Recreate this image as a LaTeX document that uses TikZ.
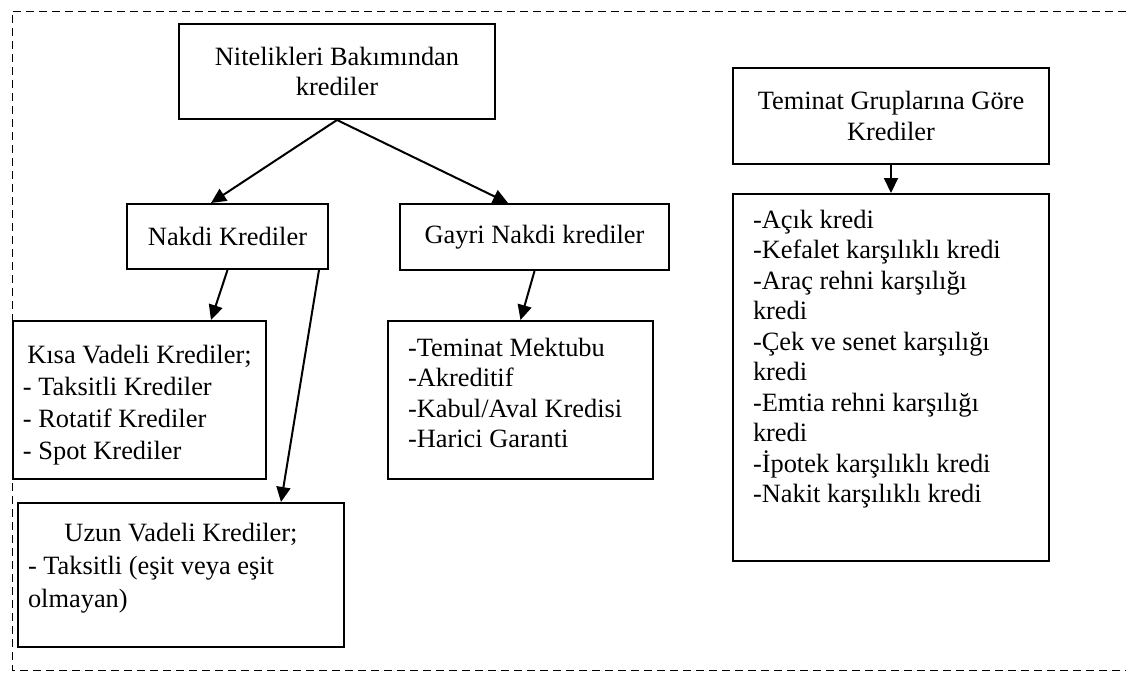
\documentclass[tikz,border=0pt]{standalone}
\usepackage{fontspec}
\setmainfont{Liberation Serif}
\usetikzlibrary{arrows.meta}

\begin{document}
\begin{tikzpicture}[x=0.5pt, y=-0.5pt, >={Triangle[length=7.5pt,width=7pt]},
  box/.style 2 args={draw, line width=1pt, inner sep=0pt, anchor=north west,
    minimum width=#1, minimum height=#2,
    font=\fontsize{13.2}{15.25}\selectfont,
    execute at begin node={\spaceskip=0pt\xspaceskip=0pt\relax}},
  link/.style={->, line width=1pt}]
  \useasboundingbox (0,0) rectangle (1126,677);

  %--- dashed frame (open on the right)
  \draw[dash pattern=on 4pt off 2.5pt, line width=0.5pt]
    (1126,11) -- (12,11) -- (12,670) -- (1126,670);

  %--- credits by nature
  \node[box={158pt}{47.5pt}, align=center] (nitelik) at (178,23)
    {Nitelikleri Bakımından\\krediler};
  \node[box={100.5pt}{32.5pt}] (nakdi) at (126,203) {Nakdi Krediler};
  \node[box={134.5pt}{33pt}] (gayri) at (399,203) {Gayri Nakdi krediler};

  \node[box={126.5pt}{79pt}, inner xsep=5pt, text width=116.5pt, align=left,
        font=\fontsize{13.2}{16}\selectfont] (kisa) at (12,320)
    {{\centering\rule{0pt}{14pt}Kısa Vadeli Krediler;\par}- Taksitli Krediler\\- Rotatif Krediler\\- Spot Krediler};
  \node[box={163pt}{72pt}, inner xsep=5pt, text width=153pt, align=left,
        font=\fontsize{13.2}{16.5}\selectfont] (uzun) at (17,502)
    {{\centering Uzun Vadeli Krediler;\par}- Taksitli (eşit veya eşit\\olmayan)\rule[-10pt]{0pt}{0pt}};
  \node[box={132.5pt}{79pt}, inner xsep=10pt, text width=112.5pt, align=left] (glist) at (387,320)
    {-Teminat Mektubu\\-Akreditif\\-Kabul/Aval Kredisi\\-Harici Garanti\rule[-7pt]{0pt}{0pt}};

  %--- credits by collateral group
  \node[box={158pt}{48pt}, align=center] (teminat) at (732,67)
    {Teminat Gruplarına Göre\\Krediler};
  \node[box={158pt}{183.5pt}, inner xsep=10pt, text width=138pt, align=left] (tlist) at (732,193)
    {-Açık kredi\\-Kefalet karşılıklı kredi\\-Araç rehni karşılığı\\kredi\\-Çek ve senet karşılığı\\kredi\\-Emtia rehni karşılığı\\kredi\\-İpotek karşılıklı kredi\\-Nakit karşılıklı kredi\rule[-21pt]{0pt}{0pt}};

  %--- arrows
  \draw[link] (nitelik.south) -- ([xshift=-8.25pt]nakdi.north);
  \draw[link] (nitelik.south) -- ([xshift=-13.25pt]gayri.north);
  \draw[link] (nakdi.south) -- ([xshift=35.75pt]kisa.north);
  \draw[link] ([xshift=-5pt]nakdi.south east) -- ([xshift=50pt]uzun.north);
  \draw[link] (gayri.south) -- (glist.north);
  \draw[link] (teminat.south) -- (tlist.north);
\end{tikzpicture}
\end{document}
